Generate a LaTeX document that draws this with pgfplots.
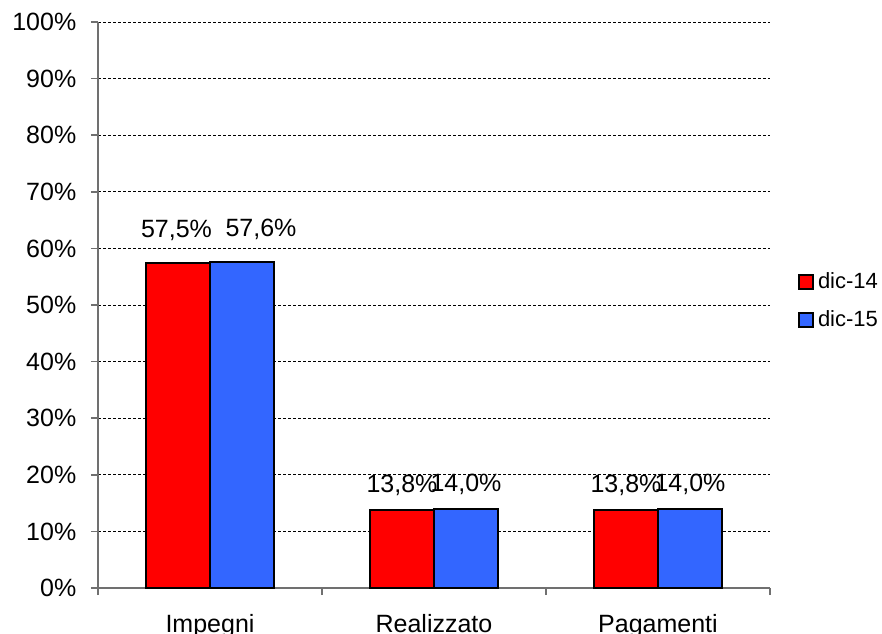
\documentclass[border=0pt]{standalone}
\usepackage{fontspec}
\setmainfont{Liberation Sans}
\usepackage{pgfplots}
\pgfplotsset{compat=1.18}
\definecolor{cred}{HTML}{FF0000}
\definecolor{cblue}{HTML}{3366FF}
\definecolor{axgray}{HTML}{707070}
\pgfplotstableread{
x y dx dy
0 57.5 -0.75 12.75
1 13.8 0 8.75
2 13.8 0 8.75
}\dicA
\pgfplotstableread{
x y dx dy
0 57.6 9.5 12.75
1 14.0 0 8.5
2 14.0 0 8.5
}\dicB
\begin{document}
\fontsize{12.5}{15}\selectfont
\begin{tikzpicture}
\begin{axis}[name=ax, at={(0,0)}, anchor=south west,
  scale only axis, width=336pt, height=283pt,
  ybar=0pt, bar width=32pt,
  xmin=-0.5, xmax=2.5, ymin=0, ymax=100,
  axis x line=bottom, axis y line=left,
  axis line style={-, draw=axgray, line width=0.8pt},
  xtick={-0.5,0.5,1.5,2.5}, xticklabels={},
  extra x ticks={0,1,2},
  extra x tick labels={Impegni,Realizzato,Pagamenti},
  extra x tick style={major tick length=0pt, tick label style={yshift=-9pt}},
  ytick={0,10,...,100},
  yticklabels={0\%,10\%,20\%,30\%,40\%,50\%,60\%,70\%,80\%,90\%,100\%},
  yticklabel style={xshift=-3pt},
  ymajorgrids, grid style={black, line width=0.5pt, dash pattern=on 1.5pt off 1pt},
  tick align=outside, major tick length=3.5pt,
  tick style={axgray, line width=0.8pt},
  tick label style={font=\fontsize{12.5}{15}\selectfont},
  /pgf/number format/assume math mode=true,
  visualization depends on={\thisrow{dx} \as \mydx},
  visualization depends on={\thisrow{dy} \as \mydy},
  nodes near coords={\pgfmathprintnumber[fixed,fixed zerofill,precision=1,use comma]{\pgfplotspointmeta}\%},
  every node near coord/.append style={anchor=base, xshift=\mydx pt, yshift=\mydy pt,
    font=\fontsize{12.5}{15}\selectfont, black},
  legend style={draw=none, fill=none, at={(1,1)}, anchor=north west, xshift=14pt, yshift=-123pt,
    font=\fontsize{11}{13}\selectfont, row sep=5pt, cells={anchor=west}, inner sep=0pt},
  legend cell align=left,
]
\addplot[fill=cred, draw=black, line width=1pt,
  legend image code/.code={\draw[fill=cred, draw=black, line width=0.8pt] (0pt,-3.5pt) rectangle (7pt,3.5pt);}]
  table[x=x, y=y] {\dicA};
\addplot[fill=cblue, draw=black, line width=1pt,
  legend image code/.code={\draw[fill=cblue, draw=black, line width=0.8pt] (0pt,-3.5pt) rectangle (7pt,3.5pt);}]
  table[x=x, y=y] {\dicB};
\legend{dic-14,dic-15}
\end{axis}
\pgfresetboundingbox
\path (ax.south west) ++(-49pt,-22.5pt) rectangle ++(441pt,316.5pt);
\end{tikzpicture}
\end{document}
